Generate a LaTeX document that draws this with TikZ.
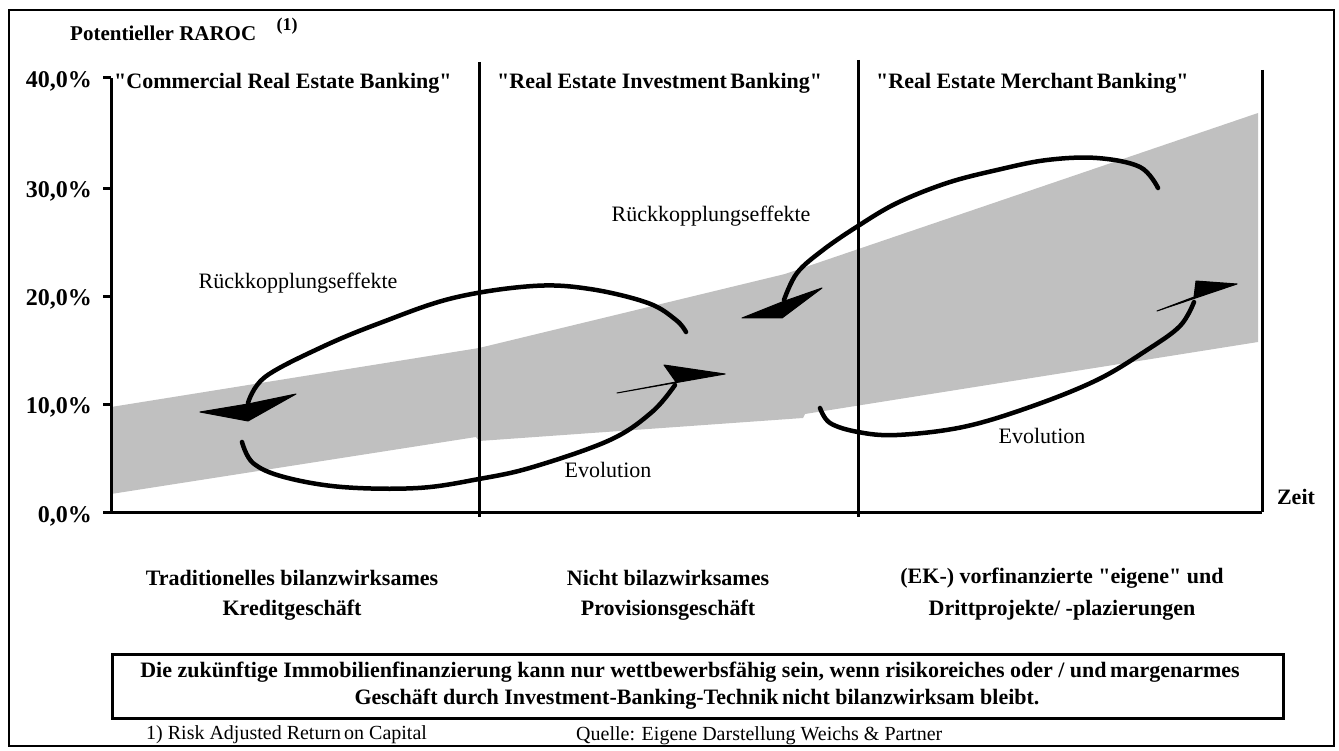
\documentclass[tikz,border=0pt]{standalone}
\usepackage{fontspec}
\setmainfont{Liberation Serif}[Ligatures=TeXOff]
\definecolor{bandgray}{RGB}{192,192,192}
\begin{document}
\begin{tikzpicture}[x=1pt,y=-1pt,
  axisline/.style={line width=3pt},
  divline/.style={line width=3pt},
  loopline/.style={line width=4.5pt,line cap=round},
  dart/.style={fill=black,draw=black,line width=1pt,line join=round},
  ylab/.style={font=\bfseries\fontsize{24}{28}\selectfont,anchor=east,inner sep=0pt},
  coltitle/.style={font=\bfseries\fontsize{22}{26}\selectfont,inner sep=0pt,anchor=west},
  plainlab/.style={font=\fontsize{22}{26}\selectfont,inner sep=0pt},
  bottomlab/.style={font=\bfseries\fontsize{22}{26}\selectfont,inner sep=0pt},
  boxtext/.style={font=\bfseries\fontsize{22}{26}\selectfont,inner sep=0pt},
  footlab/.style={font=\fontsize{20}{24}\selectfont,inner sep=0pt}]
\useasboundingbox (0,0) rectangle (1339,751);
\draw[line width=2pt] (9,10) rectangle (1334,746);
% band
\fill[bandgray] (111,407) -- (479,348) -- (785,274) -- (1258,113) -- (1258,342)
  -- (805,414) -- (803,418) -- (479,441) -- (476,437) -- (111,494) -- cycle;
% axes
\coordinate (o) at (111,512);
\coordinate (ytop) at (111,78);
\coordinate (xend) at (1262,512);
\draw[axisline] (103,512) -- (xend);
\draw[axisline] (o) -- (ytop);
\foreach \yy in {78,189,297,404,512} \draw[axisline] (103,\yy) -- (111,\yy);
\draw[divline] (479,62) -- (479,517);
\draw[divline] (858,60) -- (858,517);
\draw[divline] (1262,70) -- (1262,512);
% y labels
\node[ylab] (y40) at (92,81) {40,0\%};
\node[ylab] (y30) at (92,191) {30,0\%};
\node[ylab] (y20) at (92,299) {20,0\%};
\node[ylab] (y10) at (92,407) {10,0\%};
\node[ylab] (y0) at (92,516) {0,0\%};
\node[font=\bfseries\fontsize{21}{25}\selectfont,inner sep=0pt,anchor=west] (raroc) at (70,33) {Potentieller RAROC};
\node[font=\bfseries\fontsize{18}{21}\selectfont,inner sep=0pt] (fn1) at (287,26) {(1)};
\node[font=\bfseries\fontsize{22}{26}\selectfont,inner sep=0pt] (zeit) at (1296,497) {Zeit};
% column titles
\node[coltitle] (c1) at (114,83) {"Commercial Real Estate Banking"};
\node[coltitle] (c2) at (497,83) {"Real Estate Investment\hspace{-2pt} Banking"};
\node[coltitle] (c3) at (876,83) {"Real Estate Merchant\hspace{-2pt} Banking"};
% labels
\node[plainlab] (r1) at (298,283) {Rückkopplungseffekte};
\node[plainlab] (r2) at (711,216) {Rückkopplungseffekte};
\node[plainlab] (e1) at (608,470) {Evolution};
\node[plainlab] (e2) at (1042,436) {Evolution};
% loop 1
\draw[loopline] plot[smooth,tension=0.6] coordinates {(248,403) (265,377) (322,347) (380,323) (453,298) (533,286) (590,289) (648,303) (676,320) (686,332)};
\draw[loopline] plot[smooth,tension=0.6] coordinates {(242,442) (253,463) (284,477) (342,487) (418,488) (479,479) (533,467) (610,440) (652,412) (675,385)};
\fill[dart] (200,412) -- (248,421) -- (296,394) -- (248,404) -- cycle;
\fill[dart] (664,365) -- (725,374) -- (617,393) -- (676,382) -- cycle;
% loop 2
\draw[loopline] plot[smooth,tension=0.6] coordinates {(784,300) (797,273) (823,250) (858,226) (897,203) (947,183) (997,170) (1047,160) (1097,158) (1140,167) (1158,188)};
\draw[loopline] plot[smooth,tension=0.6] coordinates {(820,408) (830,423) (858,432) (897,435) (963,427) (1030,407) (1097,380) (1147,350) (1180,326) (1194,302)};
\fill[dart] (742,318) -- (782,318) -- (822,288) -- (782,302) -- cycle;
\fill[dart] (1196,281) -- (1237,284) -- (1157,311) -- (1194,297) -- cycle;
% bottom labels
\node[bottomlab] (b1a) at (292,578) {Traditionelles bilanzwirksames};
\node[bottomlab] (b1b) at (292,610) {Kreditgeschäft};
\node[bottomlab] (b2a) at (668,578) {Nicht bilazwirksames};
\node[bottomlab] (b2b) at (668,610) {Provisionsgeschäft};
\node[bottomlab] (b3a) at (1062,578) {(EK-) vorfinanzierte "eigene" und};
\node[bottomlab] (b3b) at (1062,610) {Drittprojekte/ -plazierungen};
% box
\draw[line width=3pt] (112,654) rectangle (1283,718);
\node[boxtext] (box1) at (690,672) {Die zukünftige Immobilienfinanzierung kann nur wettbewerbsfähig sein, wenn risikoreiches oder / und\hspace{-2pt} margenarmes};
\node[boxtext] (box2) at (697,699) {Geschäft durch Investment-Banking-Technik\hspace{-2pt} nicht bilanzwirksam bleibt.};
\node[footlab,anchor=west] (f1) at (146,735) {1) Risk Adjusted Return\hspace{-2pt} on Capital};
\node[footlab,anchor=west] (f2) at (576,736) {Quelle: Eigene Darstellung Weichs \& Partner};
\end{tikzpicture}
\end{document}
